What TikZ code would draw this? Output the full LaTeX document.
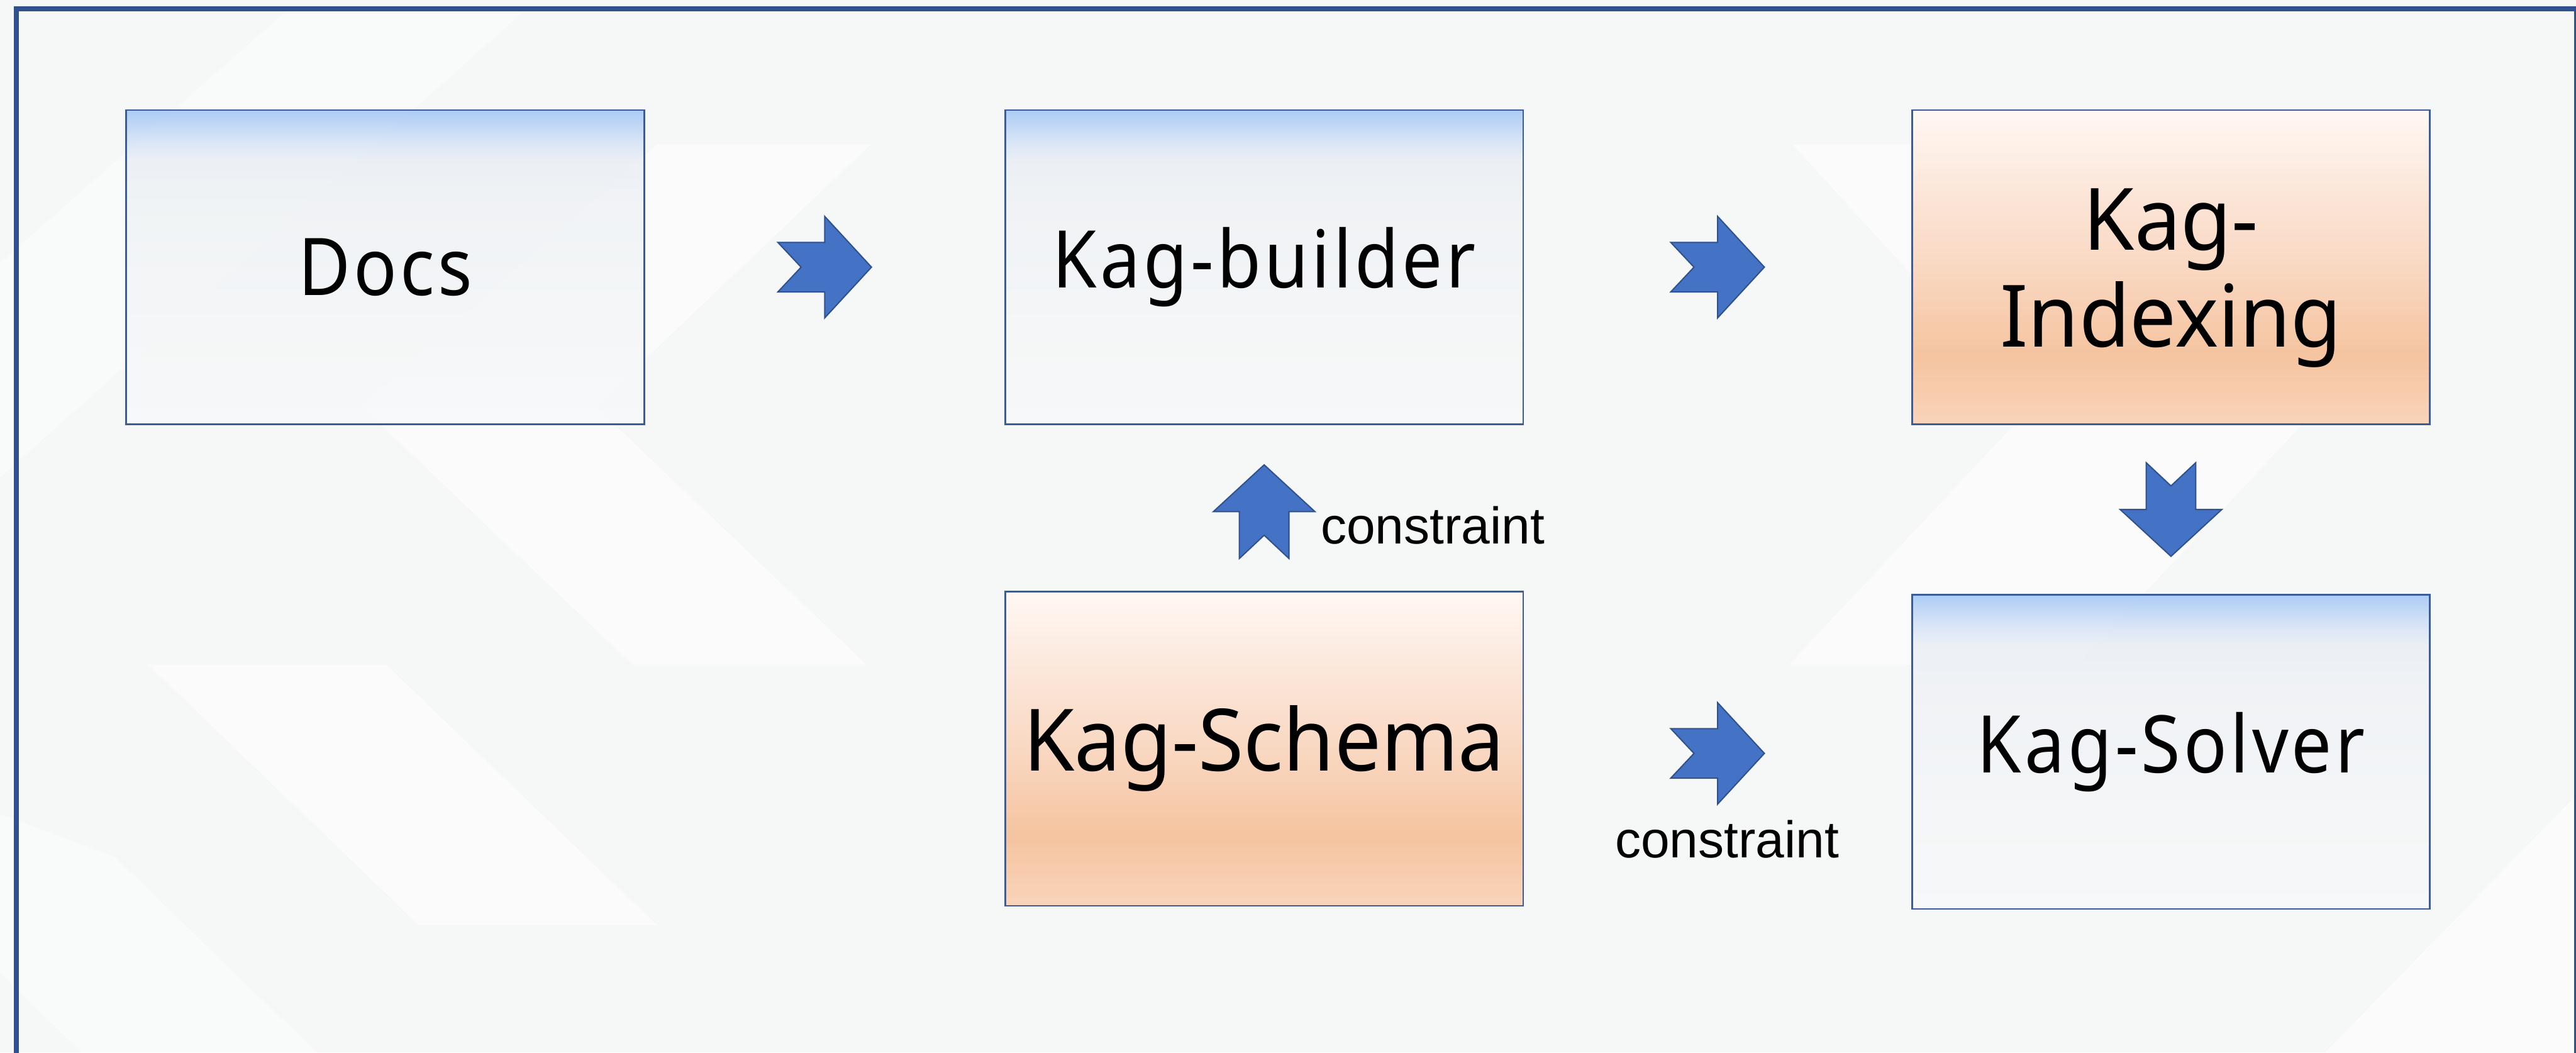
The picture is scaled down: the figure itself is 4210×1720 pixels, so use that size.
\documentclass[tikz,border=0pt]{standalone}
\usepackage{fontspec}
\setmainfont{Noto Sans}
\newfontfamily\boxthin[FakeStretch=0.9, LetterSpace=4]{Noto Sans}
\newfontfamily\boxreg[FakeStretch=0.96]{Noto Sans}
\newfontfamily\lblfont{Liberation Sans}
\usetikzlibrary{calc}
\definecolor{bgc}{HTML}{F6F7F7}
\definecolor{frame}{HTML}{2F528F}
\definecolor{boxline}{HTML}{3A5C9A}
\definecolor{arrfill}{HTML}{4472C4}
\definecolor{arrline}{HTML}{2F528F}
\definecolor{bb0}{HTML}{F8F9FA}
\definecolor{bb1}{HTML}{EFF2F5}
\definecolor{bb2}{HTML}{E9EEF5}
\definecolor{bb3}{HTML}{D3E2F6}
\definecolor{bb4}{HTML}{9CC2F5}
\definecolor{ob0}{HTML}{FFF8F4}
\definecolor{ob1}{HTML}{FCE7DA}
\definecolor{ob2}{HTML}{F9D8C2}
\definecolor{ob3}{HTML}{F5C4A0}
\definecolor{ob4}{HTML}{F9D4BA}
\pgfdeclareverticalshading{blueshade}{100bp}{color(0bp)=(bb0); color(25bp)=(bb0); color(60bp)=(bb1); color(67bp)=(bb2); color(70bp)=(bb3); color(75bp)=(bb4); color(100bp)=(bb4)}
\pgfdeclareverticalshading{orangeshade}{100bp}{color(0bp)=(ob4); color(25bp)=(ob4); color(36bp)=(ob3); color(50bp)=(ob2); color(62.5bp)=(ob1); color(75bp)=(ob0); color(100bp)=(ob0)}
\tikzset{
  boxbase/.style={draw=boxline, line width=0.8pt, minimum width=8.46cm, minimum height=5.13cm, inner sep=0pt, text=black},
  bluebox/.style={boxbase, shade, shading=blueshade, fill opacity=0.82, text opacity=1},
  orangebox/.style={boxbase, shade, shading=orangeshade},
  thintxt/.style={font=\boxthin\fontsize{37}{44}\selectfont},
  regtxt/.style={font=\boxreg\fontsize{40}{45}\selectfont, align=center},
  lbl/.style={font=\lblfont\fontsize{24}{28}\selectfont, inner sep=0pt, text=black},
  arrowsty/.style={fill=arrfill, draw=arrline, line width=0.6pt, line join=miter},
  barrow/.pic={\path[arrowsty] (-76.5,40.5) -- (0,40.5) -- (0,83) -- (76.5,0) -- (0,-83) -- (0,-40.5) -- (-76.5,-40.5) -- (-38.5,0) -- cycle;},
  bgpoly/.style={fill=white, fill opacity=0.6, draw=none}
}
\begin{document}
\begin{tikzpicture}[x=0.01cm,y=-0.01cm]
\useasboundingbox (0,0) rectangle (4210,1720);
\clip (0,0) rectangle (4210,1720);
% background
\fill[bgc] (0,0) rectangle (4210,1720);
\path[bgpoly] (1074,236) -- (1423,236) -- (973,664) -- (1416,1086) -- (1034,1086) -- (591,664) -- cycle;
\path[bgpoly, fill opacity=0.4] (470,16) -- (859,16) -- (0,780) -- (0,430) -- cycle;
\path[bgpoly] (242,1086) -- (631,1086) -- (1074,1512) -- (685,1512) -- cycle;
\path[bgpoly, fill opacity=0.4] (0,1330) -- (187,1400) -- (304,1513) -- (518,1720) -- (134,1720) -- (0,1590) -- cycle;
\path[bgpoly] (2930,236) -- (3400,236) -- (3790,664) -- (3395,1086) -- (2924,1086) -- (3320,664) -- cycle;
\path[bgpoly] (4210,1300) -- (3800,1720) -- (4210,1720) -- cycle;
% frame
\draw[frame, line width=0.08cm] (27,14) rectangle (4211,1740);
% boxes
\node[bluebox, thintxt] (docs) at (629.5,436.5) {Docs};
\node[bluebox, thintxt] (builder) at (2066,436.5) {Kag-builder};
\node[orangebox, regtxt] (indexing) at (3548,436.5) {};
\node[regtxt] (indexingtxt) at ($(indexing.center)+(0,18)$) {Kag-\\Indexing};
\node[orangebox, regtxt] (schema) at (2066,1223.5) {Kag-Schema};
\node[bluebox, thintxt] (solver) at (3548,1228.5) {Kag-Solver};
% block arrows
\coordinate (m1) at ($(docs.east)!0.5!(builder.west)$);
\coordinate (m2) at ($(builder.east)!0.5!(indexing.west)$);
\coordinate (m3) at ($(schema.north)!0.5!(builder.south)+(0,6)$);
\coordinate (m4) at ($(indexing.south)!0.5!(solver.north)$);
\coordinate (m5) at ($(schema.east)!0.5!(solver.west)+(0,5)$);
\pic at (m1) {barrow};
\pic at (m2) {barrow};
\pic[rotate=90] at (m3) {barrow};
\pic[rotate=-90] at (m4) {barrow};
\pic at (m5) {barrow};
% labels
\node[lbl, anchor=base west] (c1) at ($(m3)+(92,52.5)$) {constraint};
\node[lbl, anchor=base] (c2) at ($(m5)+(15.5,170.5)$) {constraint};
\end{tikzpicture}
\end{document}
